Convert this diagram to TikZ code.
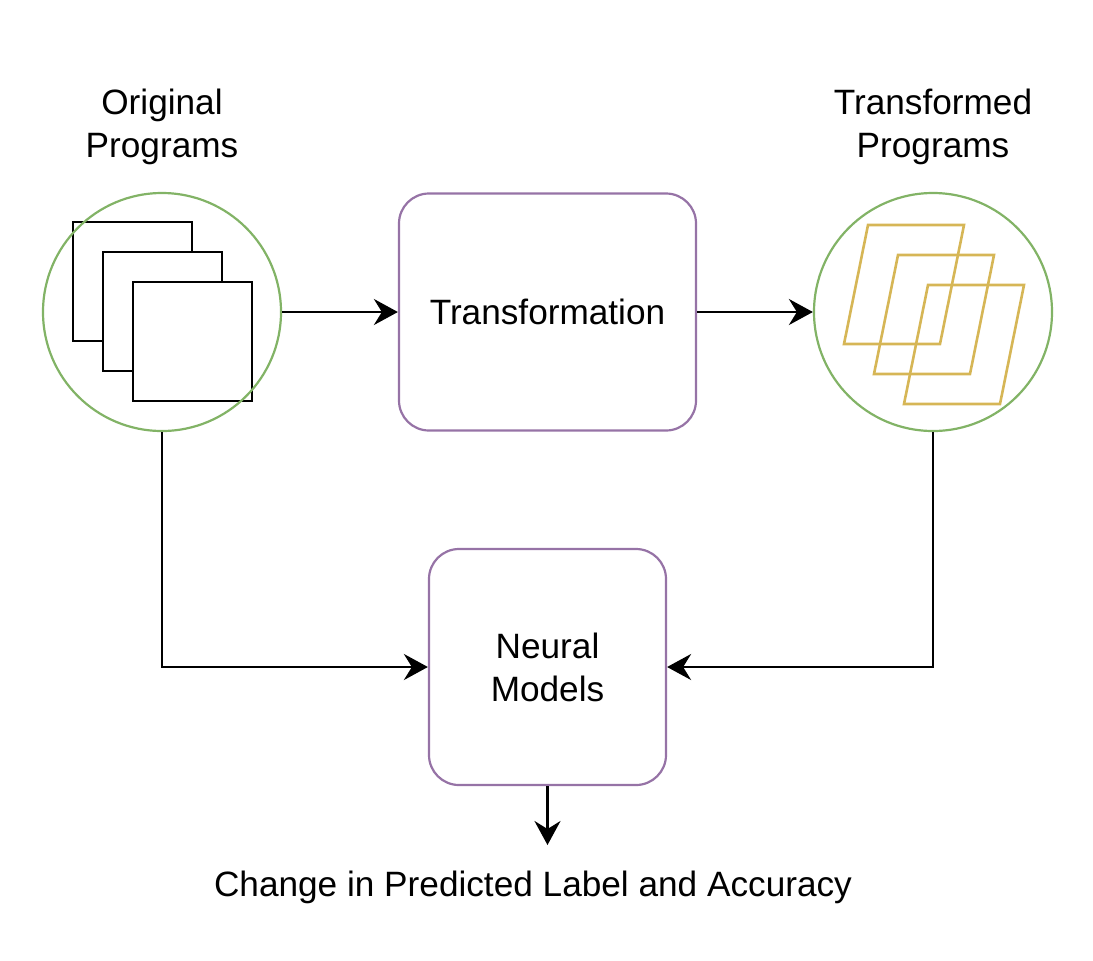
\documentclass[tikz,border=0pt]{standalone}
\usepackage{fontspec}
\setmainfont{Liberation Sans}
\usetikzlibrary{arrows.meta,positioning}
\definecolor{progGreen}{HTML}{82B366}
\definecolor{stagePurple}{HTML}{9673A6}
\definecolor{progYellow}{HTML}{D6B656}
\tikzset{
  progset/.style={circle, draw=progGreen, line width=1.1pt, minimum size=119pt, inner sep=0pt},
  stagebox/.style={draw=stagePurple, line width=1.1pt, rounded corners=15pt, align=center, inner sep=0pt},
  setlabel/.style={align=center, inner sep=0pt},
  flow/.style={-{Stealth[length=12pt,width=13pt,inset=4pt]}, line width=1.3pt},
}
\begin{document}
\begin{tikzpicture}[x=0.5pt, y=-0.5pt, font=\fontsize{17.6}{21.5}\selectfont]
\useasboundingbox (0,0) rectangle (1093,960);
% original programs
\foreach \d in {0,30,60} \draw[fill=white, line width=1.3pt] (73+\d,222+\d) rectangle ++(119,119);
\node[progset] (orig) at (162,312) {};
\node[setlabel, above=13.5pt of orig] (origlabel) {Original\\Programs};
% transformed programs
\foreach \d in {0,30,60} \draw[progYellow, line width=1.3pt] (868+\d,225+\d) -- ++(96,0) -- ++(-24,119) -- ++(-96,0) -- cycle;
\node[progset] (trnsf) at (933,312) {};
\node[setlabel, above=13.5pt of trnsf] (trnsflabel) {Transformed\\Programs};
% stages
\node[stagebox, minimum width=148.5pt, minimum height=118.5pt] (trans) at (547.5,312) {Transformation};
\node[stagebox, minimum width=118.5pt, minimum height=118pt] (neural) at (547.5,667) {Neural\\Models};
\node (result) at (533,887) {Change in Predicted Label and Accuracy};
\coordinate (outend) at (547.5,845);
% connectors
\draw[flow] (orig.east) -- (trans.west);
\draw[flow] (trans.east) -- (trnsf.west);
\draw[flow] (orig.south) |- (neural.west);
\draw[flow] (trnsf.south) |- (neural.east);
\draw[flow] (neural.south) -- (outend);
\end{tikzpicture}
\end{document}
